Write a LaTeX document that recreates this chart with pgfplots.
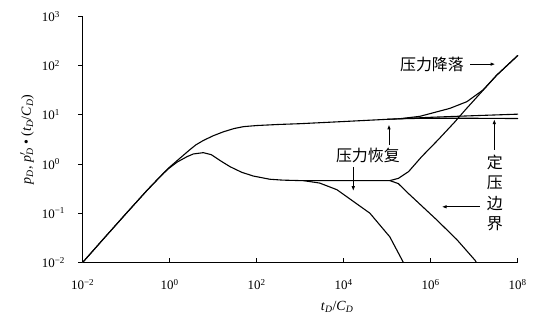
\documentclass[border=0pt]{standalone}
\usepackage{fontspec}
\setmainfont{Liberation Serif}
\newfontfamily\cjk{Noto Sans CJK SC}
\usepackage{pgfplots}
\pgfplotsset{compat=1.18}
\usetikzlibrary{arrows.meta}
\newcommand{\sub}[1]{\textsubscript{\textit{#1}}}
\newcommand{\tl}[1]{10\textsuperscript{#1}}
\pgfplotsset{crv/.style={black, mark=none, line width=1.1pt, line join=round, line cap=round}}
\begin{document}
\begin{tikzpicture}
\begin{axis}[name=ax,
  xmode=log, ymode=log,
  scale only axis, width=435bp, height=246bp,
  xmin=1e-2, xmax=1e8, ymin=1e-2, ymax=1e3,
  axis lines=left, axis line style={-, line width=0.8pt},
  xminorticks=false, yminorticks=false,
  xtick={1e-2,1,1e2,1e4,1e6,1e8},
  xticklabels={\tl{−2},\tl{0},\tl{2},\tl{4},\tl{6},\tl{8}},
  ytick={1e-2,1e-1,1,1e1,1e2,1e3},
  yticklabels={\tl{−2},\tl{−1},\tl{0},\tl{1},\tl{2},\tl{3}},
  tick align=inside, major tick length=4bp,
  tick style={line width=0.8pt, black},
  y tick style={xshift=-4.5bp},
  xticklabel style={anchor=center, yshift=-22bp, font=\fontsize{13}{13}\selectfont},
  yticklabel style={anchor=west, inner sep=0pt, xshift=-41bp, font=\fontsize{13}{13}\selectfont},
  xlabel={\textit{t}\sub{D}/\textit{C}\sub{D}},
  ylabel={\textit{p}\sub{D}, \textit{p}\rlap{\textsuperscript{$\prime$}}\sub{D} • (\textit{t}\sub{D}/\textit{C}\sub{D})},
  xlabel style={at={(axis description cs:0.585,-0.18)}, anchor=center, font=\fontsize{14}{14}\selectfont},
  ylabel style={at={(axis description cs:-0.128,0.5)}, anchor=center, font=\fontsize{14}{14}\selectfont},
  clip=false,
]
% main p_D (infinite acting)
\addplot[crv] coordinates {(0.01,0.01)(0.03,0.03)(0.1,0.099)(0.3,0.29)(0.6,0.55)(0.93,0.82)(1.7,1.3)(2.9,1.95)(4,2.45)(5.9,3.0)(10,3.75)(17,4.5)(30,5.25)(50,5.75)(100,6.05)(300,6.35)(1e3,6.6)(1e4,7.3)(1e5,8.1)(1e6,8.9)(1e7,9.6)(1e8,10.3)};
% derivative, wellbore storage hump and radial plateau
\addplot[crv] coordinates {(0.01,0.01)(0.03,0.03)(0.1,0.099)(0.3,0.29)(0.6,0.55)(0.93,0.8)(1.5,1.1)(2.5,1.41)(3.5,1.6)(5.9,1.7)(9,1.55)(15,1.15)(24.5,0.88)(45,0.68)(83,0.57)(200,0.49)(400,0.47)(1e3,0.46)(1e4,0.46)(1.15e5,0.46)};
% constant pressure derivative
\addplot[crv] coordinates {(1.15e5,0.46)(1.8e5,0.4)(3.1e5,0.25)(1.38e6,0.073)(4e6,0.029)(1.05e7,0.011)(1.12e7,0.01)};
% buildup derivative
\addplot[crv] coordinates {(1.17e3,0.46)(2.8e3,0.41)(7e3,0.3)(4e4,0.1)(1.15e5,0.033)(2.35e5,0.01)};
% closed boundary derivative (drawdown)
\addplot[crv] coordinates {(1.15e5,0.46)(1.8e5,0.51)(3.1e5,0.70)(6.2e5,1.41)(1.48e6,3.1)(3.6e6,7.2)(6.2e6,12.5)(3.3e7,64)(1e8,160)};
% closed boundary p_D (drawdown)
\addplot[crv] coordinates {(2e5,8.35)(5.6e5,9.3)(1.15e6,11)(2.75e6,13.5)(6.8e6,18.5)(1.6e7,32)(3.3e7,64)(1e8,160)};
% flattening p_D (buildup / constant pressure)
\addplot[crv] coordinates {(1e5,8.1)(3e5,8.4)(1e6,8.5)(1e7,8.5)(1e8,8.4)};
% annotations
\node[font=\cjk\fontsize{16}{16}\selectfont] at (axis cs:1.07e6,107) {压力降落};
\draw[-{Latex[length=5bp,width=3.5bp]}, line width=1pt] (axis cs:8.1e6,107) -- (axis cs:3.1e7,107);
\node[font=\cjk\fontsize{16}{16}\selectfont] at (axis cs:3.6e4,1.5) {压力恢复};
\draw[-{Latex[length=5bp,width=3.5bp]}, line width=1pt] (axis cs:1.1e5,2.43) -- (axis cs:1.1e5,6.4);
\draw[-{Latex[length=5bp,width=3.5bp]}, line width=1pt] (axis cs:1.66e4,0.87) -- (axis cs:1.66e4,0.28);
\node[font=\cjk\fontsize{16}{20.5}\selectfont, align=center] at (axis cs:3.0e7,0.26) {定\\压\\边\\界};
\draw[-{Latex[length=5bp,width=3.5bp]}, line width=1pt] (axis cs:2.9e7,1.93) -- (axis cs:2.9e7,8.2);
\draw[-{Latex[length=5bp,width=3.5bp]}, line width=1pt] (axis cs:1.35e7,0.135) -- (axis cs:1.78e6,0.135);
\end{axis}
\pgfresetboundingbox
\path[use as bounding box] ([xshift=-82.7bp,yshift=-57.3bp]ax.south west) rectangle ([xshift=17.3bp,yshift=16.4bp]ax.north east);
\end{tikzpicture}
\end{document}
